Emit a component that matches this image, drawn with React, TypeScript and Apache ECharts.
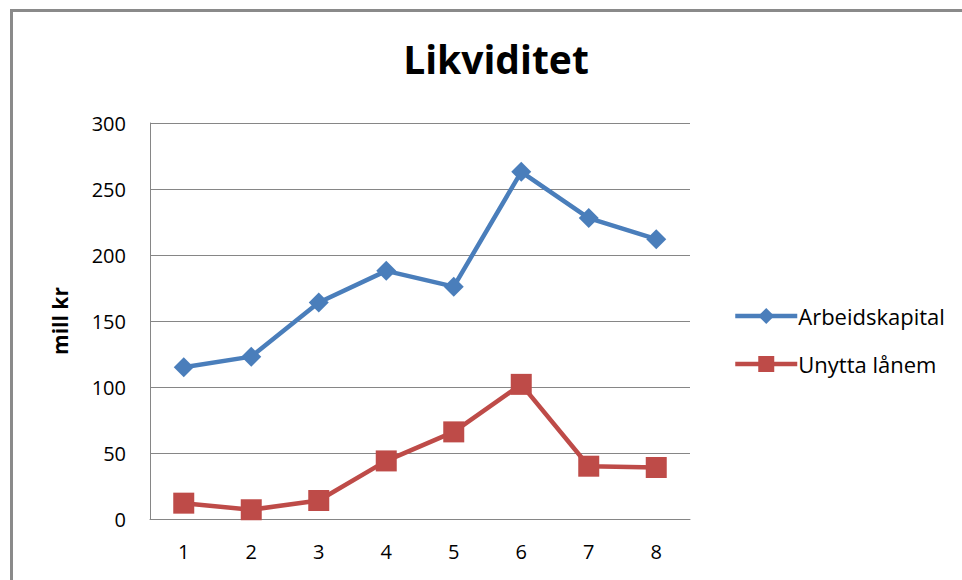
import React, { useEffect, useRef } from "react";
import * as echarts from "echarts";

const categories = ["1", "2", "3", "4", "5", "6", "7", "8"];
const arbeidskapital = [115, 123, 164, 188, 176, 263, 228, 212];
const unyttaLanem = [12, 7, 14, 44, 66, 102, 40, 39];
const seriesNames = ["Arbeidskapital", "Unytta lånem"];
const titleText = "Likviditet";
const yAxisName = "mill kr";

const FONT = "'Open Sans', 'Noto Sans', sans-serif";

export default function App() {
  const ref = useRef<HTMLDivElement>(null);
  useEffect(() => {
    if (!ref.current) return;
    const chart = echarts.init(ref.current, undefined, { renderer: "svg" });
    chart.setOption({
      animation: false,
      backgroundColor: "#ffffff",
      title: {
        text: titleText,
        left: 491,
        textAlign: "center",
        top: 34,
        textStyle: { fontFamily: FONT, fontSize: 39, fontWeight: "bold", color: "#000" },
      },
      graphic: [
        {
          type: "rect",
          shape: { x: 11.5, y: 10.5, width: 1000, height: 700 },
          style: { fill: "none", stroke: "#8a8a8a", lineWidth: 3 },
          silent: true,
        },
      ],
      legend: {
        orient: "vertical",
        left: 728,
        top: 300,
        itemGap: 26,
        itemWidth: 62,
        itemHeight: 20,
        lineStyle: { width: 4.5 },
        textStyle: { fontFamily: FONT, fontSize: 22, color: "#000", padding: [0, 0, 0, -4] },
        data: seriesNames,
      },
      grid: { left: 150, right: 272, top: 123, bottom: 61 },
      xAxis: {
        type: "category",
        data: categories,
        boundaryGap: true,
        axisLine: { lineStyle: { color: "#868686", width: 1 } },
        axisTick: { show: false },
        axisLabel: { fontFamily: FONT, fontSize: 20, color: "#000", margin: 22 },
      },
      yAxis: {
        type: "value",
        min: 0,
        max: 300,
        interval: 50,
        name: yAxisName,
        nameLocation: "middle",
        nameGap: 80,
        nameRotate: 90,
        nameTextStyle: { fontFamily: FONT, fontSize: 21, fontWeight: "bold", color: "#000" },
        axisLine: { show: true, lineStyle: { color: "#868686", width: 1 } },
        axisTick: { show: false },
        axisLabel: { fontFamily: FONT, fontSize: 20, color: "#000", margin: 24 },
        splitLine: { lineStyle: { color: "#868686", width: 1 } },
      },
      series: [
        {
          name: seriesNames[0],
          type: "line",
          data: arbeidskapital,
          symbol: "diamond",
          symbolSize: 20,
          lineStyle: { color: "#4A7EBB", width: 4.5 },
          itemStyle: { color: "#4A7EBB" },
        },
        {
          name: seriesNames[1],
          type: "line",
          data: unyttaLanem,
          symbol: "rect",
          symbolSize: 21,
          lineStyle: { color: "#BE4B48", width: 4.5 },
          itemStyle: { color: "#BE4B48" },
        },
      ],
    });
    return () => chart.dispose();
  }, []);
  return (
    <div
      ref={ref}
      style={{ position: "fixed", left: 0, top: 0, width: 962, height: 580 }}
    />
  );
}
